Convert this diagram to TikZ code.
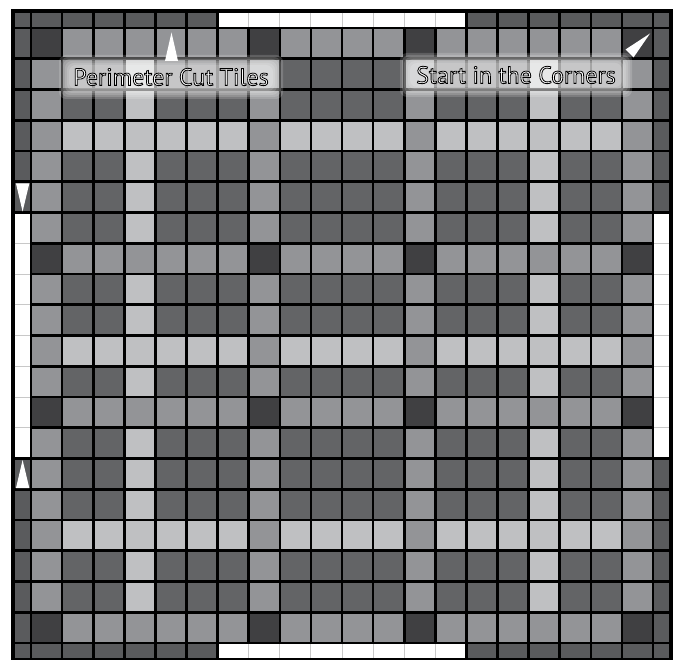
\documentclass[tikz,border=0pt]{standalone}
\usepackage{fontspec}
\setmainfont{PT Sans}
\definecolor{tiledarkest}{RGB}{64,64,66}
\definecolor{tiledark}{RGB}{99,100,102}
\definecolor{tilemed}{RGB}{147,148,151}
\definecolor{tilelight}{RGB}{191,192,194}
\definecolor{tileedge}{RGB}{90,91,93}
\definecolor{cutline}{RGB}{200,200,200}
\newcommand{\tilecell}[3]{\fill[#3] ({xl(#1)},{yl(#2)}) rectangle ({xr(#1)},{yr(#2)});}
\newcommand{\outlinetext}[1]{\special{pdf:literal 2 Tr 0 G 0.8 w}#1\special{pdf:literal 0 Tr}}

\begin{document}
\begin{tikzpicture}[x=1pt,y=-1pt,
  declare function={xl(\x)=31.1*\x+1.2+13.3*(\x==0);
                    xr(\x)=31.1*\x+29.7-14.3*(\x==21);
                    yl(\x)=30.75*\x-1.45+14.45*(\x==0);
                    yr(\x)=30.75*\x+26.7-14.45*(\x==21);
                    gx(\x)=31.1*\x-0.1;
                    gy(\x)=30.75*\x-2.75;},
  glow/.style={fill=white, fill opacity=0.16, rounded corners=7pt, inner sep=0pt},
  tilelabel/.style={text=white, font=\fontsize{24}{24}\selectfont, inner sep=0pt}]
\useasboundingbox (0,0) rectangle (684,660);
\fill[black] (11,9) rectangle (673,660);
\foreach \col in {1,...,20}{\foreach \row in {1,...,20}{\tilecell{\col}{\row}{tiledark}}}
\foreach \col in {1,...,20}{\foreach \row in {4,11,17}{\tilecell{\col}{\row}{tilelight}}}
\foreach \col in {4,17}{\foreach \row in {1,...,20}{\tilecell{\col}{\row}{tilelight}}}
\foreach \col in {1,...,20}{\foreach \row in {1,8,13,20}{\tilecell{\col}{\row}{tilemed}}}
\foreach \col in {1,8,13,20}{\foreach \row in {1,...,20}{\tilecell{\col}{\row}{tilemed}}}
\foreach \col in {1,8,13,20}{\foreach \row in {1,8,13,20}{\tilecell{\col}{\row}{tiledarkest}}}
\foreach \k in {0,...,21}{\tilecell{\k}{0}{tileedge}\tilecell{\k}{21}{tileedge}\tilecell{0}{\k}{tileedge}\tilecell{21}{\k}{tileedge}}
% cut tiles
\fill[white] ({xl(7)},{yl(0)}) rectangle ({xr(14)},{yr(0)});
\fill[white] ({xl(7)},{yl(21)}) rectangle ({xr(14)},{yr(21)});
\fill[white] ({xl(0)},{yl(7)}) rectangle ({xr(0)},{yr(14)});
\fill[white] ({xl(21)},{yl(7)}) rectangle ({xr(21)},{yr(14)});
\foreach \k in {8,...,14}{
  \draw[cutline, line width=1pt] ({gx(\k)},{yl(0)}) -- ({gx(\k)},{yr(0)});
  \draw[cutline, line width=1pt] ({gx(\k)},{yl(21)}) -- ({gx(\k)},{yr(21)});
  \draw[cutline, line width=1pt] ({xl(0)},{gy(\k)}) -- ({xr(0)},{gy(\k)});
  \draw[cutline, line width=1pt] ({xl(21)},{gy(\k)}) -- ({xr(21)},{gy(\k)});
}
\fill[white] (171.5,32.5) -- (178,61) -- (165,61) -- cycle;
\fill[white] (16,183.5) -- (29.3,183.5) -- (22.6,211.5) -- cycle;
\fill[white] (22.6,460) -- (29.3,488) -- (16,488) -- cycle;
\fill[white] (650,33.5) -- (633.5,57.5) -- (625.5,49.5) -- cycle;
\coordinate (perimpos) at (171,77);
\coordinate (cornerpos) at (516,75);
\foreach \g in {0,...,5}{
  \node[glow, minimum width=204+4*\g, minimum height=24+4*\g] at (perimpos) {};
  \node[glow, minimum width=212+4*\g, minimum height=24+4*\g] at (cornerpos) {};
}
\node[tilelabel] (perimlabel) at (perimpos) {\outlinetext{Perimeter Cut Tiles}};
\node[tilelabel] (cornerlabel) at (cornerpos) {\outlinetext{Start in the Corners}};
\end{tikzpicture}
\end{document}
